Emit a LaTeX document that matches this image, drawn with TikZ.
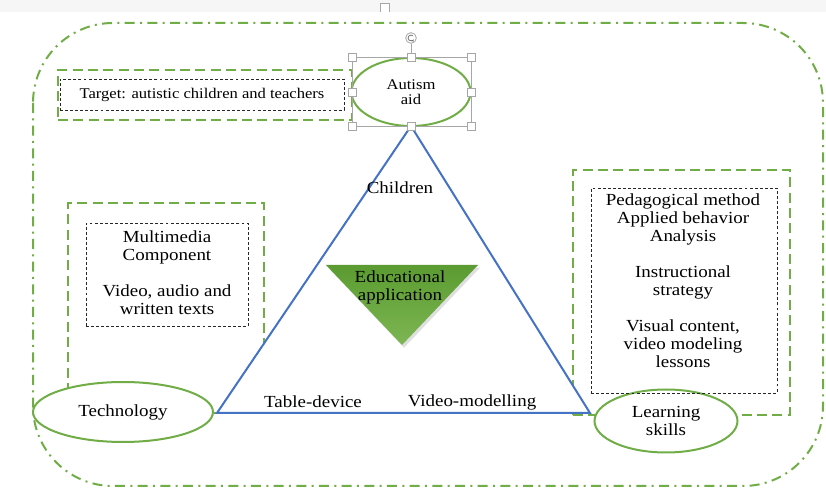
\documentclass[tikz,border=0pt]{standalone}
\usepackage{fontspec}
\setmainfont{Liberation Serif}[FakeStretch=1.12]
\usetikzlibrary{shapes.geometric,shadows,arrows.meta}
\definecolor{grn}{HTML}{70AD47}
\definecolor{blu}{HTML}{4472C4}
\definecolor{hdl}{HTML}{A6A6A6}
\definecolor{edtop}{HTML}{5B9B31}
\definecolor{edbot}{HTML}{7DB653}
\begin{document}
\begin{tikzpicture}[x=0.75pt,y=-0.75pt,
 frame/.style={draw=grn, line width=1.5pt, dash pattern=on 7.5pt off 4pt on 1.5pt off 4pt, rounded corners=60pt},
 gbox/.style={draw=grn, line width=1.6pt, dash pattern=on 7.5pt off 4pt, rectangle, inner sep=0pt, outer sep=0pt},
 kbox/.style={draw=black!85, line width=0.6pt, dash pattern=on 2.2pt off 1.6pt, rectangle, inner sep=0pt, outer sep=0pt},
 oval/.style={ellipse, draw=grn, line width=1.5pt, fill=white, inner sep=0pt, outer sep=0pt, align=center, font=\fontsize{12.7}{13.5}\selectfont},
 txt/.style={align=center, font=\fontsize{12.7}{13.5}\selectfont, inner sep=0pt},
 stxt/.style={align=center, font=\fontsize{11.1}{11.5}\selectfont, inner sep=0pt},
 handle/.style={draw=hdl, fill=white, line width=0.6pt, minimum size=6pt, inner sep=0pt, rectangle}
]
\useasboundingbox (0,0) rectangle (826,488);
\fill[gray!7] (0,0) rectangle (826,12);
\node[handle, minimum size=7pt] (tophandle) at (385,8) {};
\fill[white] (0,12.5) rectangle (826,16);

% outer frame
\draw[frame] (33,23) rectangle (823,486);

% green dashed boxes
\node[gbox, minimum width=220.5pt, minimum height=37.5pt] (tgtg) at (205,95) {};
\node[gbox, minimum width=147pt, minimum height=157.5pt] (techg) at (166,308) {};
\node[gbox, minimum width=162.75pt, minimum height=183.75pt] (learng) at (681.5,292.5) {};

% autism aid
\node[oval, minimum width=89.25pt, minimum height=51pt, font=\fontsize{11.1}{11.3}\selectfont] (aut) at (411,92) {Autism\\aid};

% main triangle
\coordinate (tl) at (217,413);
\coordinate (tr) at (590,413);
\draw[blu, line width=1.5pt, fill=white, line join=miter] (aut.south) -- (tl) -- (tr) -- cycle;

% ellipses
\node[oval, minimum width=135pt, minimum height=45pt] (tech) at (123,412) {Technology};
\node[oval, minimum width=107.25pt, minimum height=47.25pt] (learn) at (666,421) {Learning\\skills};

% inner dashed boxes
\node[kbox, minimum width=213pt, minimum height=23.25pt, stxt] (tgt) at (202,94.5) {Target: autistic children and teachers};
\node[kbox, minimum width=121.5pt, minimum height=77.25pt] (mmbox) at (167,274.5) {};
\node[kbox, minimum width=139.5pt, minimum height=153.75pt] (pedbox) at (684,290.5) {};

\node[txt] (mmtxt) at (167,273) {Multimedia\\Component\\[13.5pt]Video, audio and\\written texts};
\node[txt] (pedtxt) at (683,281) {Pedagogical method\\Applied behavior\\Analysis\\[13.5pt]Instructional\\strategy\\[13.5pt]Visual content,\\video modeling\\lessons};

% triangle labels
\node[txt] (child) at (400,188) {Children};
\node[txt] (tabdev) at (313,402) {Table-device};
\node[txt] (vidmod) at (472,402) {Video-modelling};

% educational application
\path[top color=edtop, bottom color=edbot, drop shadow={shadow xshift=1.5pt, shadow yshift=-2pt, opacity=0.25}]
  (326,265) -- (478,265) -- (402,345) -- cycle;
\node[txt] (edu) at (400,287) {Educational\\application};

% selection handles
\draw[hdl, line width=0.6pt] (352,57) rectangle (471,126);
\draw[hdl, line width=0.6pt] (411,44) -- (411,57);
\node[draw=hdl, fill=white, circle, line width=0.6pt, minimum size=8pt, inner sep=0pt] (rot) at (411,38) {};
\draw[hdl!70!black, line width=0.6pt, -{Stealth[length=2pt,width=2pt]}] ([shift={(50:2.2pt)}]rot.center) arc[start angle=50, end angle=330, radius=2.2pt];
\foreach \p/\n in {{352,57}/h1,{411,57}/h2,{471,57}/h3,{352,92}/h4,{471,92}/h5,{352,126}/h6,{411,126}/h7,{471,126}/h8}
  \node[handle] (\n) at (\p) {};
\end{tikzpicture}
\end{document}
